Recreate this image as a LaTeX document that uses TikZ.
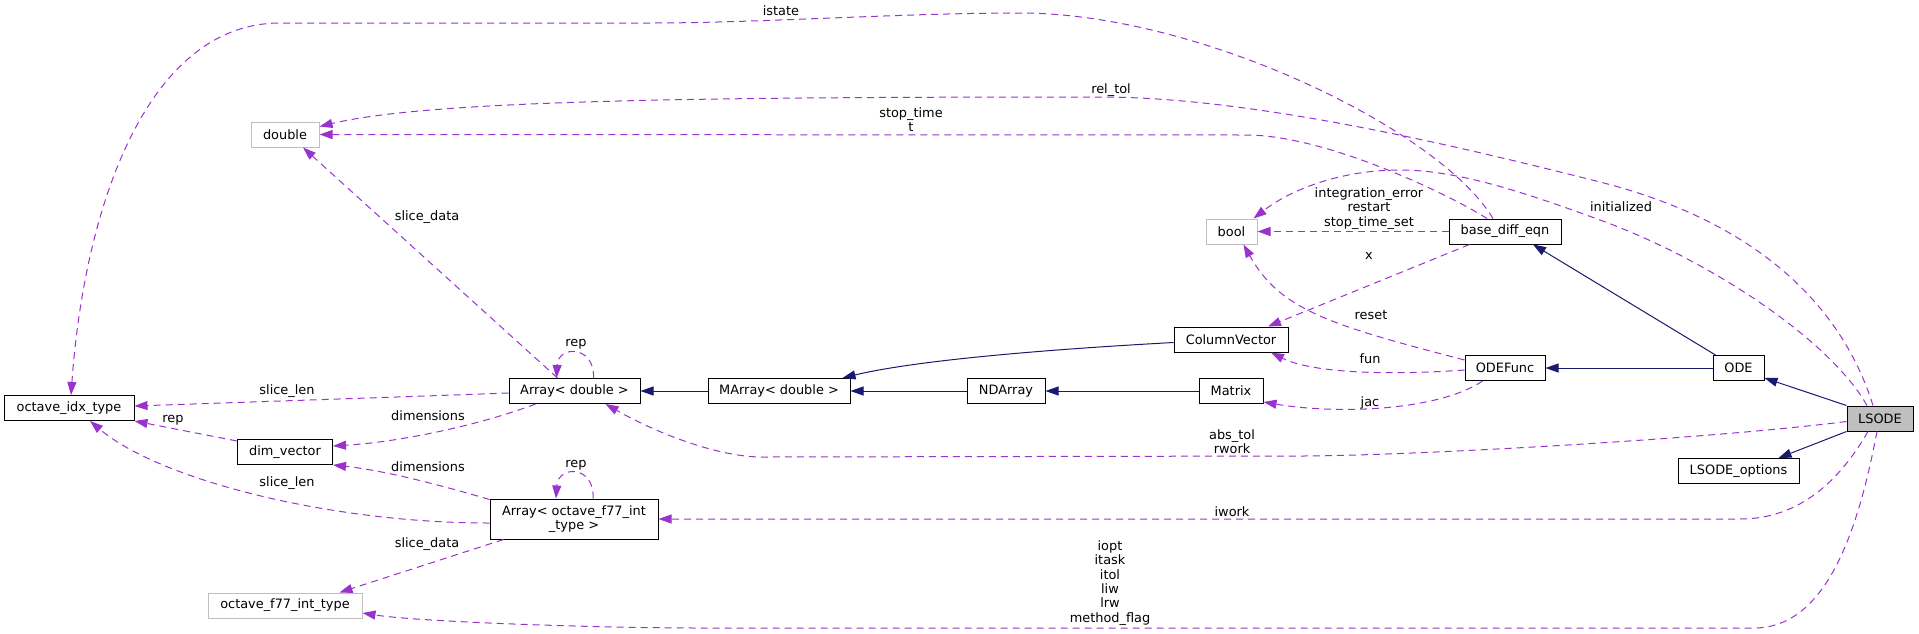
\documentclass[tikz,border=0pt]{standalone}
\usepackage{fontspec}
\setmainfont{DejaVu Sans}
\usetikzlibrary{arrows.meta,calc}
\definecolor{usecol}{HTML}{9A32CD}
\definecolor{inhcol}{HTML}{191970}
\definecolor{extgrey}{HTML}{BFBFBF}
\definecolor{focusfill}{HTML}{BFBFBF}
\begin{document}
\begin{tikzpicture}[x=1pt,y=-1pt,
  font=\fontsize{12.9}{14.4}\selectfont,
  cls/.style={draw=black,line width=1pt,fill=white,inner sep=0pt,minimum height=25pt,align=center},
  ext/.style={cls,draw=extgrey},
  focus/.style={cls,fill=focusfill},
  inh/.style={draw=inhcol,line width=1pt,-{Triangle[length=13pt,width=9pt]}},
  use/.style={draw=usecol,line width=1pt,dash pattern=on 7pt off 5pt,-{Triangle[length=13pt,width=9pt]}},
  lbl/.style={inner sep=0pt,align=center,text=black}
]
\useasboundingbox (0,0) rectangle (1919,633);

% nodes
\node[ext,minimum width=68pt] (dbl) at (285,134.5) {double};
\node[ext,minimum width=51pt] (bool) at (1231.5,231.5) {bool};
\node[ext,minimum width=154pt] (f77) at (285,605.5) {octave\_f77\_int\_type};
\node[cls,minimum width=130pt] (oit) at (69,408) {octave\_idx\_type};
\node[cls,minimum width=131pt] (arrd) at (574.5,391) {Array< double >};
\node[cls,minimum width=95pt] (dv) at (285,452) {dim\_vector};
\node[cls,minimum width=168pt,minimum height=40pt] (arrf) at (574,519) {Array< octave\_f77\_int\\\_type >};
\node[cls,minimum width=142pt] (marr) at (779,391) {MArray< double >};
\node[cls,minimum width=78pt] (nda) at (1006,391) {NDArray};
\node[cls,minimum width=64pt] (mat) at (1231,391) {Matrix};
\node[cls,minimum width=114pt] (cv) at (1231,339.5) {ColumnVector};
\node[cls,minimum width=112pt] (bde) at (1505,231.5) {base\_diff\_eqn};
\node[cls,minimum width=80pt] (odef) at (1505,368) {ODEFunc};
\node[cls,minimum width=51pt] (ode) at (1738.5,368) {ODE};
\node[focus,minimum width=66pt] (lsode) at (1880,418.5) {LSODE};
\node[cls,minimum width=121pt] (lopt) at (1738.5,471) {LSODE\_options};

% inheritance
\draw[inh] ($(ode.north west)+(3,0)$) -- ($(bde.south)+(28,0)$);
\draw[inh] (lsode.north west) -- ($(ode.south east)+(0,-3)$);
\draw[inh] (lsode.south west) -- ($(lopt.north)+(40,0)$);
\draw[inh] (ode.west) -- (odef.east);
\draw[inh] ($(cv.west)+(0,3)$) .. controls (1000,352) and (900,364) .. ($(marr.north east)+(-8,0)$);
\draw[inh] (mat.west) -- (nda.east);
\draw[inh] (nda.west) -- (marr.east);
\draw[inh] (marr.west) -- (arrd.east);

% usage
\draw[use] ($(arrd.north)+(-17,0)$) -- ($(dbl.south)+(18,0)$);
\node[lbl] (l1) at (427,217) {slice\_data};
\draw[use] ($(arrd.north)+(19,0)$) .. controls (595,345) and (558,345) .. ($(arrd.north)+(-18,0)$);
\node[lbl] (l2) at (576,344) {rep};
\draw[use] ($(arrd.west)+(0,2)$) .. controls (400,397) and (250,402) .. ($(oit.east)+(0,-2)$);
\node[lbl] (l3) at (287,391) {slice\_len};
\draw[use] ($(arrd.south west)+(27,0)$) .. controls (480,425) and (400,442) .. ($(dv.east)+(0,-6)$);
\node[lbl] (l4) at (428,416) {dimensions};
\draw[use] ($(dv.north west)+(0,2)$) -- (oit.south east);
\node[lbl] (l5) at (173,420) {rep};
\draw[use] ($(arrf.north west)+(0,1)$) .. controls (430,482) and (380,470) .. (dv.south east);
\node[lbl] (l6) at (428,467) {dimensions};
\draw[use] ($(arrf.north)+(19,0)$) .. controls (595,465) and (558,465) .. ($(arrf.north)+(-18,0)$);
\node[lbl] (l7) at (576,465) {rep};
\draw[use] ($(arrf.west)+(0,4)$) .. controls (330,523) and (160,480) .. ($(oit.south)+(21,0)$);
\node[lbl] (l8) at (287,483) {slice\_len};
\draw[use] ($(arrf.south west)+(14,0)$) -- ($(f77.north east)+(-23,0)$);
\node[lbl] (l9) at (427,544) {slice\_data};

\draw[use] ($(bde.north)+(-12,0)$) .. controls (1440,130) and (1200,13) .. (1020,13) .. controls (900,13) and (760,23) .. (650,23) -- (280,23) .. controls (150,23) and (85,200) .. ($(oit.north)+(2,0)$);
\node[lbl] (l10) at (781,11) {istate};
\draw[use] ($(bde.north)+(-18,0)$) .. controls (1450,195) and (1330,137) .. (1250,135) -- (dbl.east);
\node[lbl] (l11) at (911,119.5) {stop\_time\\t};
\draw[use] ($(lsode.north)+(-7,0)$) .. controls (1840,300) and (1750,220) .. (1600,182) .. controls (1450,144) and (1250,97) .. (1100,97) .. controls (700,97) and (430,100) .. ($(dbl.east)+(0,-8)$);
\node[lbl] (l12) at (1111,90) {rel\_tol};
\draw[use] (bde.west) -- (bool.east);
\node[lbl] (l13) at (1369,208.5) {integration\_error\\restart\\stop\_time\_set};
\draw[use] ($(lsode.north)+(-13,0)$) .. controls (1830,340) and (1710,260) .. (1600,220) .. controls (1530,194.5) and (1460,170) .. (1400,170) .. controls (1340,170) and (1290,190) .. ($(bool.north east)+(-4,0)$);
\node[lbl] (l14) at (1621,207) {initialized};
\draw[use] ($(bde.south west)+(21,0)$) -- ($(cv.north)+(37,0)$);
\node[lbl] (l15) at (1369,256) {x};
\draw[use] ($(odef.north west)+(0,5)$) .. controls (1330,325) and (1280,310) .. ($(bool.south)+(12,0)$);
\node[lbl] (l16) at (1371,315) {reset};
\draw[use] ($(odef.west)+(0,2)$) .. controls (1380,376) and (1310,372) .. ($(cv.south)+(40,0)$);
\node[lbl] (l17) at (1370,359) {fun};
\draw[use] ($(odef.south west)+(18,0)$) .. controls (1440,410) and (1340,415) .. ($(mat.south east)+(0,-2)$);
\node[lbl] (l18) at (1370,403) {jac};
\draw[use] ($(lsode.west)+(0,3)$) .. controls (1700,440) and (1400,456) .. (1300,456) -- (762,457) .. controls (720,457) and (660,435) .. ($(arrd.south east)+(-35,0)$);
\node[lbl] (l19) at (1232,441.5) {abs\_tol\\rwork};
\draw[use] ($(lsode.south)+(-12,0)$) .. controls (1840,480) and (1800,519) .. (1740,519) -- (arrf.east);
\node[lbl] (l20) at (1232,512) {iwork};
\draw[use] ($(lsode.south)+(-3,0)$) .. controls (1860,520) and (1830,628) .. (1754,628) -- (700,628) .. controls (600,628) and (420,622) .. ($(f77.east)+(0,7.5)$);
\node[lbl] (l21) at (1110,583) {iopt\\itask\\itol\\liw\\lrw\\method\_flag};
\end{tikzpicture}
\end{document}
